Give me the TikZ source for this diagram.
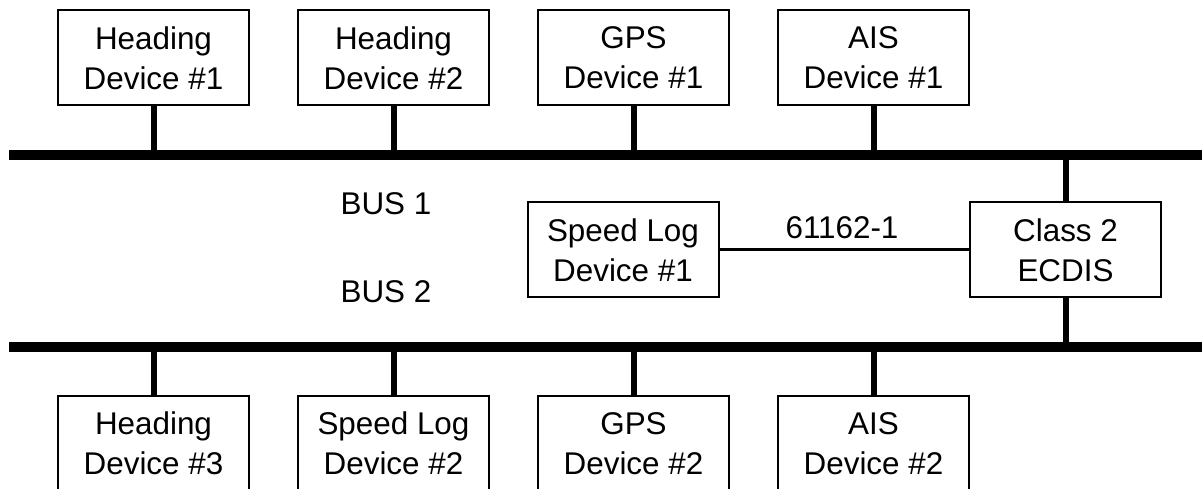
\documentclass[tikz,border=0pt]{standalone}
\usepackage{fontspec}
\setmainfont{Liberation Sans}
\begin{document}
\begin{tikzpicture}[dev/.style={draw,rectangle,line width=1bp,minimum width=95.5bp,minimum height=47.5bp,align=center,inner sep=0pt,font=\fontsize{15.7bp}{20bp}\selectfont},
		bus/.style={line width=5bp},
		stem/.style={line width=3bp},
		lbl/.style={font=\fontsize{15.7bp}{20bp}\selectfont,inner sep=0pt}]
		%%
  \useasboundingbox (0bp,0bp) rectangle (601bp,244.5bp);
  \clip (0bp,0bp) rectangle (601bp,244.5bp);
  \coordinate (b1w) at (4.5bp,167.0bp);
  \coordinate (b1e) at (601.0bp,167.0bp);
  \coordinate (b2w) at (4.5bp,71.0bp);
  \coordinate (b2e) at (601.0bp,71.0bp);
  \node (H1) at (76.75bp,215.5bp) [dev] {Heading\\Device \#1};
  \node (H2) at (196.75bp,215.5bp) [dev] {Heading\\Device \#2};
  \node (G1) at (316.75bp,215.5bp) [dev] {GPS\\Device \#1};
  \node (A1) at (436.75bp,215.5bp) [dev] {AIS\\Device \#1};
  \node (H3) at (76.75bp,22.75bp) [dev] {Heading\\Device \#3};
  \node (S2) at (196.75bp,22.75bp) [dev] {Speed Log\\Device \#2};
  \node (G2) at (316.75bp,22.75bp) [dev] {GPS\\Device \#2};
  \node (A2) at (436.75bp,22.75bp) [dev] {AIS\\Device \#2};
  \node (S1) at (311.5bp,119.5bp) [dev] {Speed Log\\Device \#1};
  \node (Ecdis) at (532.75bp,119.5bp) [dev] {Class 2\\ECDIS};
  \node (Bus1) at (193.0bp,142.5bp) [lbl] {BUS 1};
  \node (Bus2) at (193.0bp,98.5bp) [lbl] {BUS 2};
  \draw [bus] (b1w) -- (b1e);
  \draw [bus] (b2w) -- (b2e);
  \foreach \n in {H1,H2,G1,A1}
    \draw [stem] (\n.south) -- (\n.south |- b1w);
  \foreach \n in {H3,S2,G2,A2}
    \draw [stem] (\n.north) -- (\n.north |- b2w);
  \draw [stem] (Ecdis.north) -- (Ecdis.north |- b1w);
  \draw [stem] (Ecdis.south) -- (Ecdis.south |- b2w);
  \draw [line width=1.5bp] (S1) -- (Ecdis);
  \draw (421.0bp,130.5bp) node [lbl] {61162-1};
		%
	\end{tikzpicture}
\end{document}
